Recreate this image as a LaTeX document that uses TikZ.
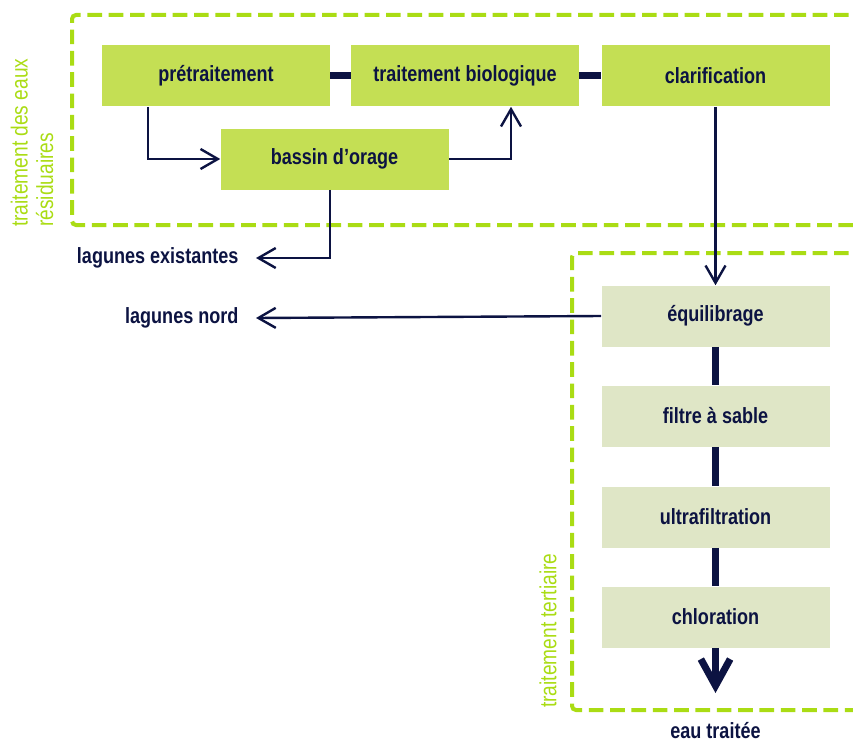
\documentclass[tikz,border=0pt]{standalone}
\usepackage{fontspec}
\setmainfont{Liberation Sans}[FakeStretch=0.82]
\usetikzlibrary{arrows.meta}
\definecolor{stagegreen}{HTML}{C4DF54}
\definecolor{tertgreen}{HTML}{DFE6C6}
\definecolor{framegreen}{HTML}{AADC14}
\definecolor{inkblue}{HTML}{0C1342}

\begin{document}
\begin{tikzpicture}[x=0.75pt,y=-0.75pt,
  stage/.style={fill=stagegreen,minimum width=171pt,minimum height=45.75pt,inner sep=0pt,
    text=inkblue,font=\fontsize{16.5}{20}\selectfont\bfseries},
  tertstage/.style={stage,fill=tertgreen},
  outlabel/.style={text=inkblue,inner sep=0pt,inner xsep=13pt,font=\fontsize{16.5}{20}\selectfont\bfseries},
  zone/.style={draw=framegreen,line width=3pt,dash pattern=on 11pt off 5pt,rounded corners=3pt},
  zonelabel/.style={text=framegreen,rotate=90,anchor=west,inner sep=0pt,align=left,
    font=\fontsize{17.5}{19}\selectfont},
  flow/.style={draw=inkblue,line width=1.8pt,-{Straight Barb[length=13pt,width=15pt]}},
  link/.style={draw=inkblue,line width=5.25pt},
  outflow/.style={link,-{Straight Barb[length=20pt,width=22pt]}}]
\useasboundingbox (0,0) rectangle (853,742);
\draw[zone] (870,15) -- (72,15) -- (72,225) -- (870,225);
\draw[zone] (870,253) -- (572,253) -- (572,710) -- (870,710);
\node[zonelabel] at (32,227) {traitement des eaux\\résiduaires};
\node[zonelabel] at (548,708) {traitement tertiaire};
\node[stage] (pret) at (216,76) {prétraitement};
\node[stage] (bio) at (465,76) {traitement biologique};
\node[stage] (clar) at (715.5,76) {clarification};
\node[stage] (bassin) at (334.5,159) {bassin d’orage};
\node[tertstage] (equil) at (715.5,316) {équilibrage};
\node[tertstage] (filtre) at (715.5,416) {filtre à sable};
\node[tertstage] (ultra) at (715.5,517) {ultrafiltration};
\node[tertstage] (chlor) at (715.5,617) {chloration};
\node[outlabel,anchor=east] (lagex) at (256,258) {lagunes existantes};
\node[outlabel,anchor=east] (lagnord) at (256,318) {lagunes nord};
\node[text=inkblue,anchor=base,inner sep=0pt,font=\fontsize{16.5}{20}\selectfont\bfseries] (eau) at (715.5,738) {eau traitée};
\coordinate (outlet) at (715.5,693);
\draw[link] (pret) -- (bio);
\draw[link] (bio) -- (clar);
\draw[flow] ([xshift=-51pt]pret.south) |- (bassin.west);
\draw[flow] (bassin.east) -| ([xshift=34.5pt]bio.south);
\draw[flow] ([xshift=-3.5pt]bassin.south) |- (lagex.east);
\draw[flow] (clar.south) -- (equil.north);
\draw[flow] (equil.west) -- (lagnord.east);
\draw[link] (equil) -- (filtre);
\draw[link] (filtre) -- (ultra);
\draw[link] (ultra) -- (chlor);
\draw[outflow] (chlor.south) -- (outlet);
\end{tikzpicture}
\end{document}
